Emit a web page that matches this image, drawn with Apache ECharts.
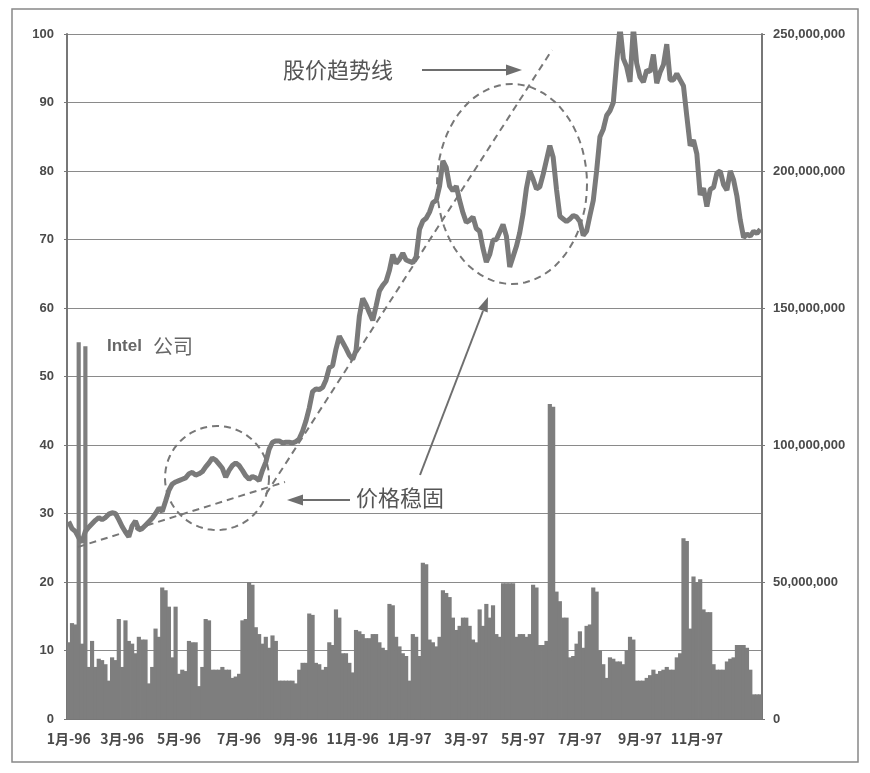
<!DOCTYPE html>
<html><head><meta charset="utf-8">
<script src="https://cdn.jsdelivr.net/npm/echarts@6/dist/echarts.min.js"></script>
<style>html,body{margin:0;padding:0;background:#fff}#c{width:870px;height:773px}</style>
</head><body><div id="c"></div>
<script>
// Intel price (USD), sampled roughly every 3.5 days, Jan 1996 – Dec 1997
const price = [
28.8,27.8,27.4,26.5,25.8,27.4,28.0,28.5,29.0,29.4,
29.1,29.4,29.9,30.1,30.0,29.1,28.1,27.3,26.6,28.2,
28.9,27.6,27.8,28.3,28.8,29.3,30.0,30.8,30.3,31.8,
33.4,34.3,34.6,34.8,35.0,35.2,35.8,36.0,35.6,35.8,
36.1,36.8,37.4,38.1,37.8,37.2,36.6,35.3,36.3,37.0,
37.4,37.0,36.3,35.5,35.0,35.4,35.2,34.8,36.3,37.5,
39.4,40.4,40.6,40.6,40.3,40.4,40.4,40.3,40.5,40.9,
42.0,43.5,45.4,47.8,48.2,48.1,48.4,49.5,51.3,51.6,
54.0,55.9,55.0,54.1,53.1,52.5,53.8,58.8,61.4,60.5,
59.3,58.2,60.3,62.5,63.3,63.9,65.5,67.8,66.5,67.1,
68.0,67.0,66.8,66.6,67.5,71.5,72.7,73.1,74.0,75.4,
75.7,77.8,81.5,80.5,77.8,77.1,77.8,75.7,73.9,72.5,
72.8,73.3,71.6,71.2,68.7,66.7,67.8,69.9,70.0,71.1,
72.2,70.5,66.0,67.5,69.0,71.0,73.8,77.5,80.0,78.8,
77.4,77.7,79.5,81.6,83.7,82.0,77.3,73.4,73.0,72.6,
73.0,73.5,73.3,72.6,70.6,71.2,73.5,75.7,80.0,85.0,
86.1,88.1,88.8,90.0,95.8,101.0,96.4,95.2,93.0,101.0,
95.7,93.7,93.0,94.7,94.5,97.0,92.8,94.4,95.5,98.5,
93.3,93.3,94.2,93.3,92.4,88.0,83.7,84.5,82.5,76.5,
77.5,74.8,77.3,77.6,79.7,80.0,78.0,77.2,80.0,78.7,
76.3,72.8,70.3,70.8,70.5,71.2,70.9,71.5
];
// Volume, millions of shares
const volume = [
28,35,34.5,137.5,27.5,136,19,28.5,19,22,
21.5,20,14,22.5,21.5,36.5,19,36,28.5,27.5,
24,30,29,29,13,19,33,30,48,47,
41,22.5,41,16.5,18,17.5,28.5,28,28,12,
19,36.5,36,18,18,18,19,18,18,15,
15.5,16.5,36,36.5,50,49,33.5,31,27.5,30,
26,30.5,28.5,14,14,14,14,14,13,18,
20.5,20.5,38.5,38,20.5,20,18,19,28,27,
40,37,24,24,20.5,17,32.5,32,31,29.5,
29.5,31,31,28,26,25,42,41.5,30,26.5,
24,23,14,31,30,23,57,56.5,29,28,
26.5,30,47,46,44.5,37,32.5,34,37,37,
34,29,28,40,34,42,37,41.5,31,30,
49.5,49.5,49.5,49.5,30,31,31,30,31,49,
48,27,27,28.5,115,114,46.5,43,37,37,
22.5,23,27.5,32,26,34,34.5,48,46.5,25,
20,15,22.5,22,21,21,20,25,30,29,
14,14,14,15,16,18,16.5,17.5,18,19,
18,18,22.5,24,66,65,33,52,50,51,
40,39,39,20,18,18,18,21,22,22.5,
27,27,27,26,18,9,9,9
];
// Category dates for the samples (about every 3.55 days from early Jan 1996)
const dates = [];
(function () {
  const base = Date.UTC(1996, 0, 1), day = 86400000;
  for (let i = 0; i < price.length; i++) {
    dates.push(new Date(base + Math.round(3.9 + 3.55 * i) * day).toISOString().slice(0, 10));
  }
})();
const priceAxis = { min: 0, max: 100, interval: 10 };
const volumeAxis = { min: 0, max: 250, interval: 50 }; // millions

function isTickIdx(i) {
  const m = +dates[i].slice(5, 7);
  if (m % 2 === 0) return false;
  return i === 0 || dates[i - 1].slice(5, 7) !== dates[i].slice(5, 7);
}
function isLabelIdx(i) { return isTickIdx(i) && dates[i].slice(0, 4) !== '1998'; }

const chart = echarts.init(document.getElementById('c'), null, { renderer: 'canvas' });
const TXT = '#4a4a4a';
const FONT = '"Liberation Sans", Arial, sans-serif';
const CJK = '"Noto Sans CJK SC", sans-serif';

function ellipsePts(cx, cy, rx, ry) {
  const p = [];
  for (let k = 0; k <= 72; k++) { const a = k / 72 * Math.PI * 2; p.push([cx + rx * Math.cos(a), cy + ry * Math.sin(a)]); }
  return p;
}
const dashStyle = { stroke: '#777', lineWidth: 2, lineDash: [7, 5], fill: null };
const arrowStyle = { stroke: '#6e6e6e', lineWidth: 2 };

chart.setOption({
  backgroundColor: '#fff',
  animation: false,
  grid: { left: 67, right: 108, top: 34, bottom: 54, containLabel: false },
  xAxis: {
    type: 'category', data: dates, boundaryGap: true,
    axisLine: { lineStyle: { color: '#777', width: 2 } },
    axisTick: { alignWithLabel: true, interval: (i) => isTickIdx(i), length: 4, lineStyle: { color: '#777' } },
    axisLabel: {
      interval: (i) => isLabelIdx(i), margin: 13, color: TXT, fontSize: 14, fontWeight: 'bold', fontFamily: CJK,
      formatter: (v) => `${+v.slice(5, 7)}月-${v.slice(2, 4)}`
    },
    splitLine: { show: false }
  },
  yAxis: [
    {
      type: 'value', min: priceAxis.min, max: priceAxis.max, interval: priceAxis.interval, position: 'left',
      axisLine: { show: true, lineStyle: { color: '#777', width: 2 } },
      axisTick: { show: true, length: 3, lineStyle: { color: '#777' } },
      axisLabel: { color: TXT, fontSize: 13, fontWeight: 'bold', fontFamily: FONT, margin: 13 },
      splitLine: { show: true, lineStyle: { color: '#8a8a8a', width: 1.2 } }
    },
    {
      type: 'value', min: volumeAxis.min, max: volumeAxis.max, interval: volumeAxis.interval, position: 'right',
      axisLine: { show: true, lineStyle: { color: '#777', width: 2 } },
      axisTick: { show: true, length: 3, lineStyle: { color: '#777' } },
      axisLabel: { color: TXT, fontSize: 13, fontWeight: 'bold', fontFamily: FONT, margin: 11,
        formatter: (v) => (v * 1e6).toLocaleString('en-US') },
      splitLine: { show: false }
    }
  ],
  series: [
    {
      type: 'bar', name: '成交量', yAxisIndex: 1, data: volume, barWidth: '125%',
      itemStyle: { color: '#7e7e7e' }, z: 2, silent: true
    },
    {
      type: 'line', name: '股价', yAxisIndex: 0, data: price, symbol: 'none', clip: true,
      lineStyle: { color: '#7a7a7a', width: 5 }, z: 3, silent: true
    }
  ],
  graphic: [
    { type: 'rect', shape: { x: 12, y: 9, width: 846, height: 753 }, style: { stroke: '#888', lineWidth: 1.5, fill: null }, z: 0 },
    // trend lines
    { type: 'line', shape: { x1: 78, y1: 547, x2: 285, y2: 482 }, style: dashStyle, z: 10 },
    { type: 'line', shape: { x1: 266, y1: 494, x2: 552, y2: 50 }, style: dashStyle, z: 10 },
    // ellipses
    { type: 'polyline', shape: { points: ellipsePts(217, 478, 52, 52) }, style: dashStyle, z: 10 },
    { type: 'polyline', shape: { points: ellipsePts(512, 184, 75, 100) }, style: dashStyle, z: 10 },
    // arrow 1
    { type: 'line', shape: { x1: 422, y1: 70, x2: 508, y2: 70 }, style: arrowStyle, z: 10 },
    { type: 'polygon', shape: { points: [[522, 70], [506, 64.5], [506, 75.5]] }, style: { fill: '#6e6e6e' }, z: 10 },
    // arrow 2
    { type: 'line', shape: { x1: 350, y1: 500, x2: 300, y2: 500 }, style: arrowStyle, z: 10 },
    { type: 'polygon', shape: { points: [[287, 500], [303, 494.5], [303, 505.5]] }, style: { fill: '#6e6e6e' }, z: 10 },
    // arrow 3
    { type: 'line', shape: { x1: 420, y1: 475, x2: 483, y2: 311 }, style: arrowStyle, z: 10 },
    { type: 'polygon', shape: { points: [[488, 297], [487.7, 312.5], [477.8, 308.7]] }, style: { fill: '#6e6e6e' }, z: 10 },
    // labels
    { type: 'text', x: 283, y: 70, style: { text: '股价趋势线', fill: '#555', font: `22px ${CJK}`, verticalAlign: 'middle' }, z: 10 },
    { type: 'text', x: 356, y: 498, style: { text: '价格稳固', fill: '#555', font: `22px ${CJK}`, verticalAlign: 'middle' }, z: 10 },
    { type: 'text', x: 107, y: 346, style: { text: 'Intel', fill: '#666', font: `bold 17px ${FONT}`, verticalAlign: 'middle' }, z: 10 },
    { type: 'text', x: 153, y: 346, style: { text: '公司', fill: '#666', font: `20px ${CJK}`, verticalAlign: 'middle' }, z: 10 }
  ]
});
</script></body></html>
